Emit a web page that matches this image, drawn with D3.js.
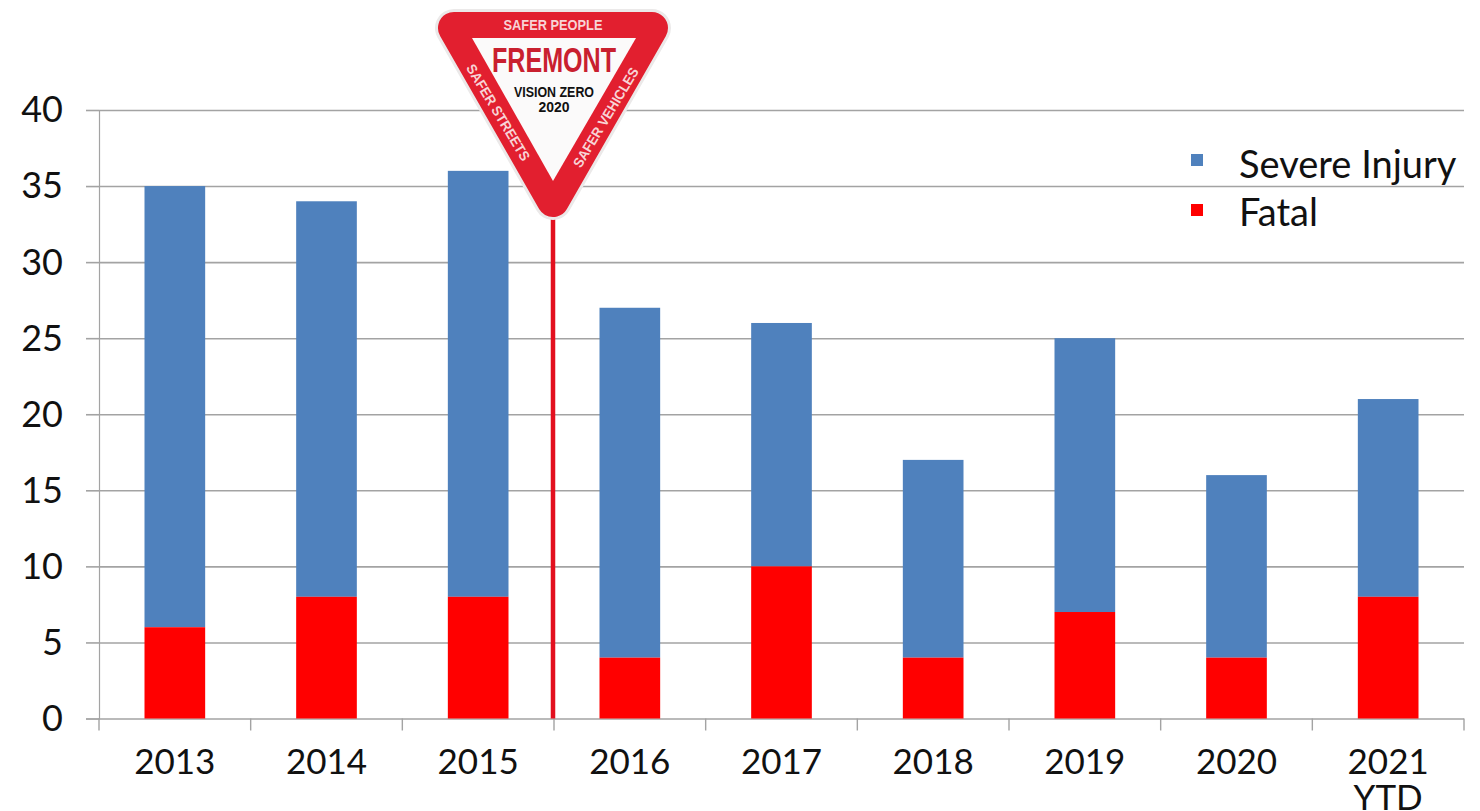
<!DOCTYPE html>
<html>
<head>
<meta charset="utf-8">
<script src="https://cdn.jsdelivr.net/npm/d3@7"></script>
<style>
  html, body { margin: 0; padding: 0; background: #fff; }
  svg { display: block; }
  text { font-family: Lato, "Open Sans", sans-serif; fill: #111; }
</style>
</head>
<body>
<div id="chart"></div>
<script>
const years = ["2013", "2014", "2015", "2016", "2017", "2018", "2019", "2020", "2021"];
const fatal = [6, 8, 8, 4, 10, 4, 7, 4, 8];
const severe = [29, 26, 28, 23, 16, 13, 18, 12, 13];
const yTicks = [0, 5, 10, 15, 20, 25, 30, 35, 40];
const legendLabels = ["Severe Injury", "Fatal"];

const width = 1480;
const height = 811;
const margin = {top: 110, right: 16, bottom: 92.5, left: 99};
const blue = "#4f81bd";
const red = "#ff0000";
const gray = "#a3a3a3";

const svg = d3.select("#chart")
  .append("svg")
    .attr("width", width)
    .attr("height", height);

const x = d3.scaleBand()
  .domain(years)
  .range([margin.left, width - margin.right])
  .paddingInner(0.6)
  .paddingOuter(0.3);

// band edges, used for the tick marks between the years
const edge = i => margin.left + i * x.step();

const y = d3.scaleLinear()
  .domain([0, 40])
  .range([height - margin.bottom, margin.top]);

// gridlines + y labels
const yAxis = g => g
  .attr("transform", `translate(${margin.left}, 0)`)
  .call(d3.axisLeft(y).tickValues(yTicks).tickSize(13).tickPadding(23))
  .call(g => g.selectAll(".tick line").clone()
    .attr("x1", 0)
    .attr("x2", width - margin.left - margin.right))
  .call(g => g.selectAll(".tick line").attr("stroke", gray).attr("stroke-width", 1.6))
  .call(g => g.select(".domain").attr("stroke", gray).attr("stroke-width", 1.2))
  .call(g => g.selectAll("text")
    .style("font-size", "36px")
    .attr("dy", "0.33em")
    .attr("fill", "#111"));

svg.append("g").call(yAxis);

// x axis: ticks on band edges
const xLine = svg.append("g").attr("stroke", gray).attr("stroke-width", 1.4);
xLine.selectAll("line")
  .data(d3.range(years.length + 1))
  .join("line")
    .attr("x1", edge)
    .attr("x2", edge)
    .attr("y1", y(0))
    .attr("y2", y(0) + 12);

svg.append("g")
  .selectAll("text")
  .data(years)
  .join("text")
    .attr("x", d => x(d) + x.bandwidth() / 2)
    .attr("y", y(0) + 55)
    .attr("text-anchor", "middle")
    .style("font-size", "35px")
    .text(d => d);

svg.append("text")
  .attr("x", x("2021") + x.bandwidth() / 2)
  .attr("y", y(0) + 91)
  .attr("text-anchor", "middle")
  .style("font-size", "35px")
  .text("YTD");

// stacked bars
svg.append("g")
  .selectAll("rect")
  .data(years)
  .join("rect")
    .attr("x", d => x(d))
    .attr("width", x.bandwidth())
    .attr("y", (d, i) => y(fatal[i] + severe[i]))
    .attr("height", (d, i) => y(fatal[i]) - y(fatal[i] + severe[i]))
    .attr("fill", blue);

svg.append("g")
  .selectAll("rect")
  .data(years)
  .join("rect")
    .attr("x", d => x(d))
    .attr("width", x.bandwidth())
    .attr("y", (d, i) => y(fatal[i]))
    .attr("height", (d, i) => y(0) - y(fatal[i]))
    .attr("fill", red);

// legend
const legend = svg.append("g");
legend.selectAll("rect")
  .data(legendLabels)
  .join("rect")
    .attr("x", 1191)
    .attr("y", (d, i) => i === 0 ? 154 : 204)
    .attr("width", 12)
    .attr("height", 12)
    .attr("fill", (d, i) => i === 0 ? blue : red);
legend.selectAll("text")
  .data(legendLabels)
  .join("text")
    .attr("x", 1239)
    .attr("y", (d, i) => i === 0 ? 178 : 226)
    .style("font-size", "38px")
    .text(d => d);

// Vision Zero sign on a pole between 2015 and 2016
const poleX = edge(3) - 1;
svg.append("line")
  .attr("x1", poleX)
  .attr("x2", poleX)
  .attr("y1", 210)
  .attr("y2", y(0))
  .attr("stroke", "#e3101f")
  .attr("stroke-width", 4.5);

const sign = svg.append("g");
const outer = "M454,28 L652,28 L553,201 Z";
sign.append("path")
  .attr("d", outer)
  .attr("fill", "#ebe9e9")
  .attr("stroke", "#ebe9e9")
  .attr("stroke-width", 38)
  .attr("stroke-linejoin", "round");
sign.append("path")
  .attr("d", outer)
  .attr("fill", "#e21f2f")
  .attr("stroke", "#e21f2f")
  .attr("stroke-width", 32)
  .attr("stroke-linejoin", "round");
sign.append("path")
  .attr("d", "M472,38 L636,38 L553,181 Z")
  .attr("fill", "#fbfafa");

const signText = (txt, tx, ty, rot, size, color, weight, len) => sign.append("text")
  .attr("transform", `translate(${tx},${ty}) rotate(${rot})`)
  .attr("text-anchor", "middle")
  .attr("textLength", len)
  .attr("lengthAdjust", "spacingAndGlyphs")
  .style("font-family", '"Liberation Sans", Arial, sans-serif')
  .style("font-size", `${size}px`)
  .style("font-weight", weight)
  .style("fill", color)
  .text(txt);

signText("SAFER PEOPLE", 553, 30, 0, 14, "#f8d3d6", 700, 99);
signText("FREMONT", 554, 72, 0, 35, "#c9202f", 700, 124);
signText("VISION ZERO", 554, 97, 0, 14, "#111", 700, 80);
signText("2020", 554, 112, 0, 14, "#111", 700, 31);
signText("SAFER STREETS", 494, 115, 59, 14, "#f8d3d6", 700, 110);
signText("SAFER VEHICLES", 610, 120, -59, 14, "#f8d3d6", 700, 114);
</script>
</body>
</html>
